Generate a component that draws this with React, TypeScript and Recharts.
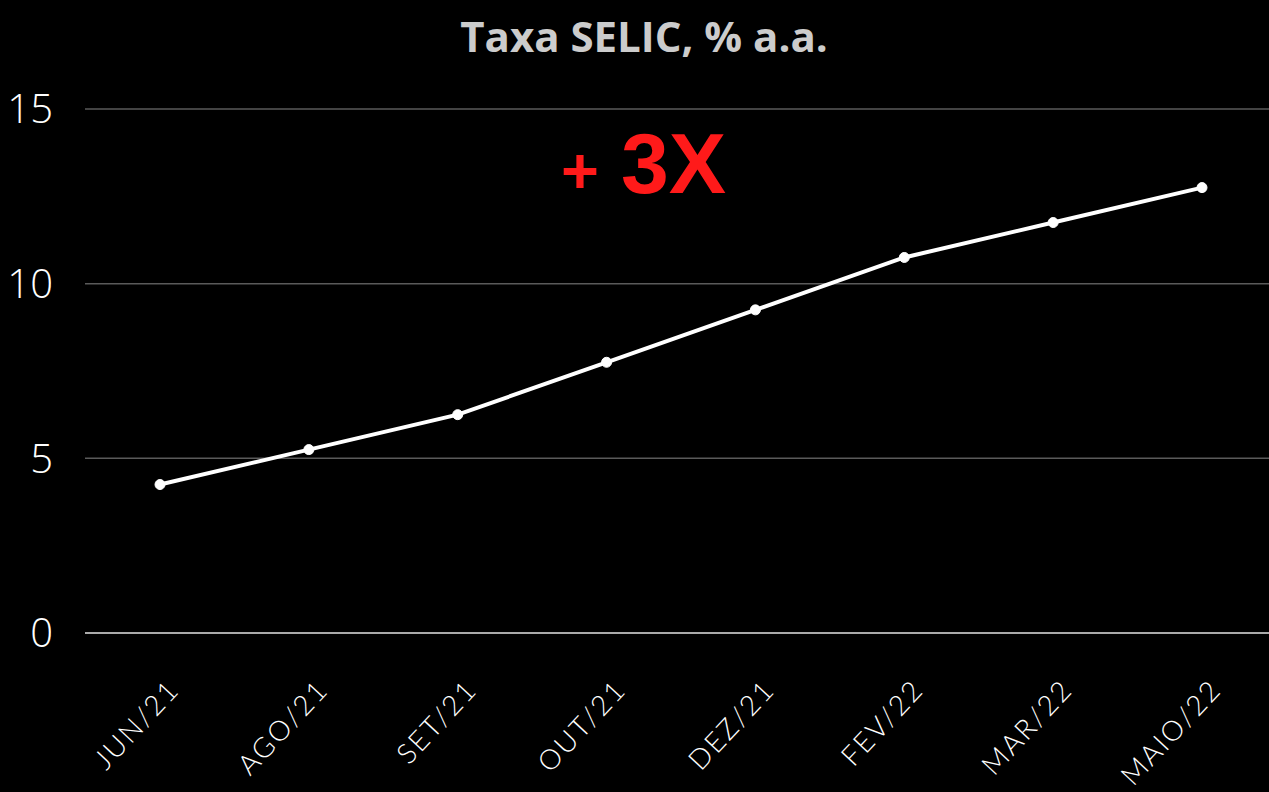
import { LineChart, Line, XAxis, YAxis, CartesianGrid } from 'recharts';

const months = ['JUN/21', 'AGO/21', 'SET/21', 'OUT/21', 'DEZ/21', 'FEV/22', 'MAR/22', 'MAIO/22'];
const selic = [4.25, 5.25, 6.25, 7.75, 9.25, 10.75, 11.75, 12.75];
const yTicks = [0, 5, 10, 15];

const data = months.map((m, i) => ({ month: m, selic: selic[i] }));

const MonthTick = (props: any) => {
  const { x, y, payload } = props;
  return (
    <g transform={`translate(${x + 21},${y + 50})`}>
      <text
        textAnchor="end"
        transform="rotate(-47)"
        fill="#ffffff"
        fontSize={28}
        letterSpacing={2}
        fontFamily="Lato, 'Open Sans', sans-serif"
        fontWeight={300}
      >
        {payload.value}
      </text>
    </g>
  );
};

const App = () => (
  <div style={{ position: 'fixed', left: 0, top: 0, width: 1269, height: 792, background: '#000', overflow: 'hidden' }}>
    <LineChart width={1269} height={792} data={data} margin={{ top: 109, right: 0, bottom: 0, left: 0 }}>
      <CartesianGrid vertical={false} stroke="#5a5a5a" strokeWidth={1.5} />
      <XAxis
        dataKey="month"
        height={159}
        padding={{ left: 75, right: 67 }}
        tickLine={false}
        axisLine={{ stroke: '#aaaaaa', strokeWidth: 2 }}
        tick={<MonthTick />}
        interval={0}
      />
      <YAxis
        width={85}
        domain={[0, 15]}
        ticks={yTicks}
        axisLine={false}
        tickLine={false}
        tickSize={0}
        tickMargin={32}
        tick={{ fill: '#ffffff', fontSize: 40, fontFamily: "'Open Sans', sans-serif", fontWeight: 300 }}
      />
      <Line
        type="linear"
        dataKey="selic"
        stroke="#ffffff"
        strokeWidth={4}
        dot={{ r: 5, fill: '#ffffff', stroke: '#ffffff', strokeWidth: 1 }}
        isAnimationActive={false}
      />
    </LineChart>
    <svg width={1269} height={792} style={{ position: 'absolute', left: 0, top: 0, pointerEvents: 'none' }}>
      <text x={644} y={52} textAnchor="middle" fill="#cccccc" fontSize={42} fontWeight={700} fontFamily="'Open Sans', sans-serif">
        Taxa SELIC, % a.a.
      </text>
      <text x={561} y={193} fill="#ff1a1a" fontWeight={700} fontFamily="'Liberation Sans', Arial, sans-serif">
        <tspan fontSize={65}>+</tspan>
        <tspan fontSize={86} dx={22}>3X</tspan>
      </text>
    </svg>
  </div>
);

export default App;
